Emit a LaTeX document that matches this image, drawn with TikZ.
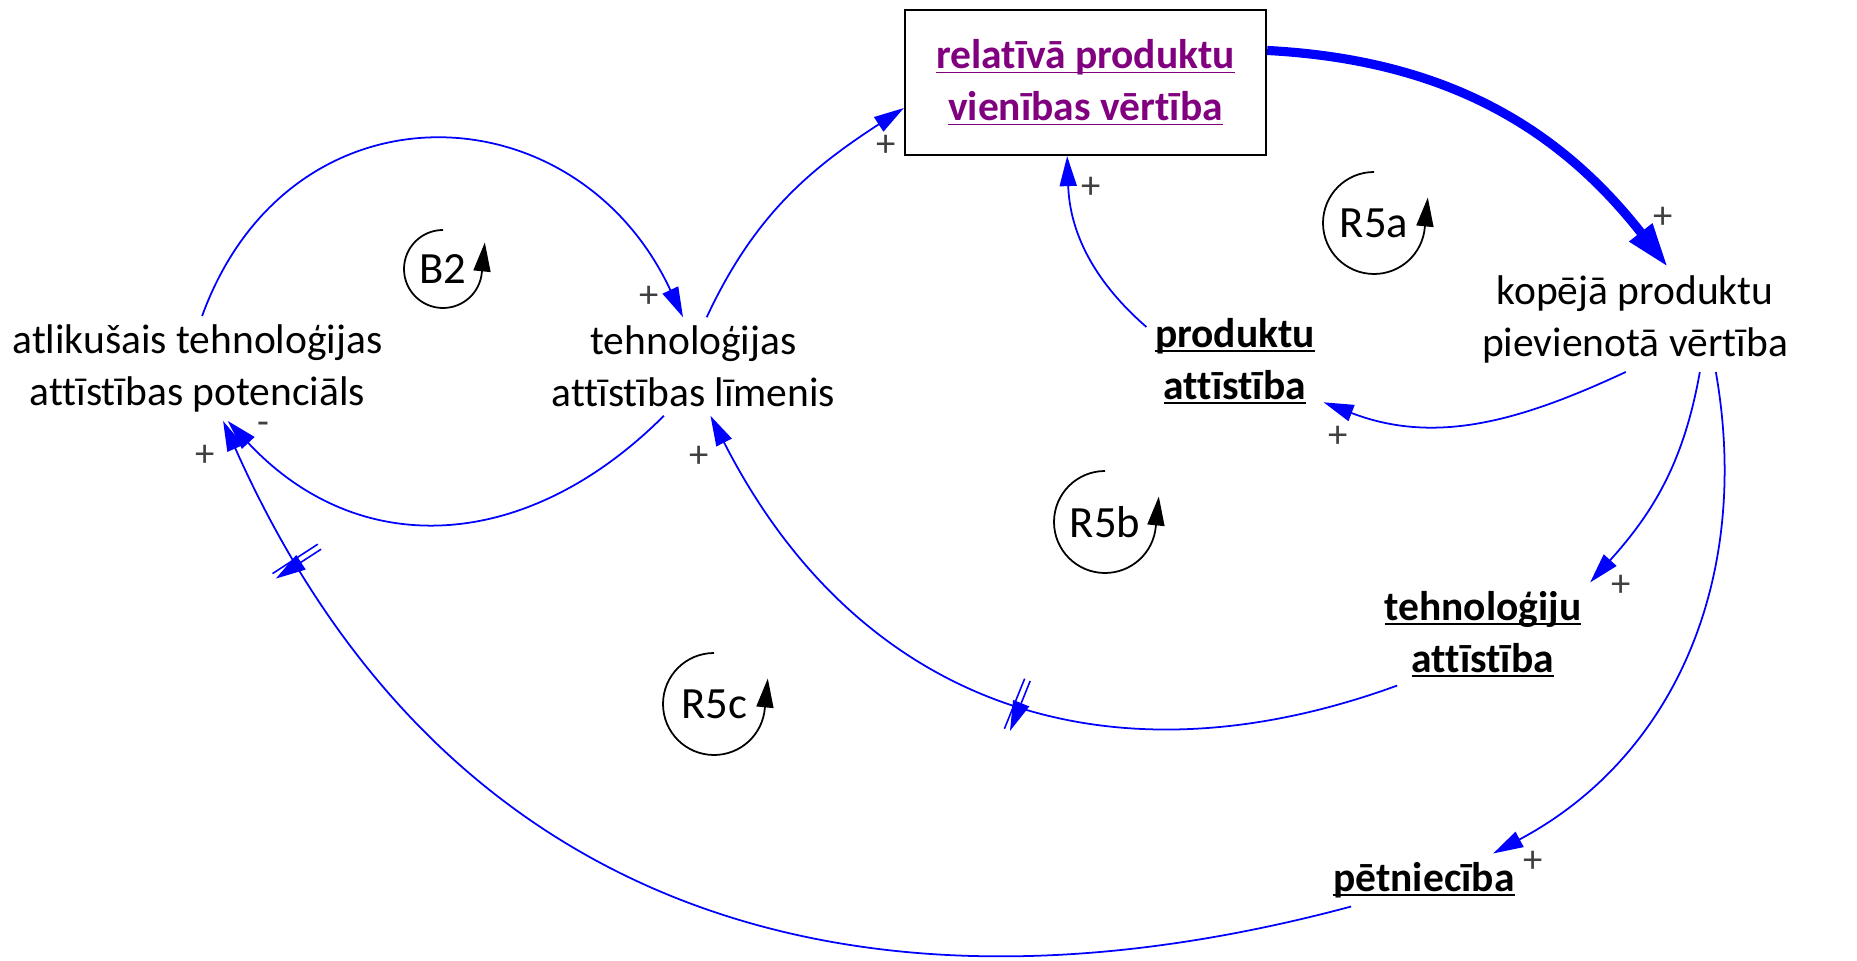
\documentclass[tikz,border=0pt]{standalone}
\usepackage{fontspec}
\setmainfont{Carlito}[Ligatures=NoCommon]
\usetikzlibrary{arrows.meta}
\definecolor{linkblue}{RGB}{0,0,255}
\definecolor{boxpurple}{RGB}{128,0,128}
\definecolor{signgray}{RGB}{64,64,64}
\newcommand{\undl}[1]{\setbox0\hbox{#1}\rlap{\rule[-1.3pt]{\wd0}{0.5pt}}\box0}
\tikzset{
  pics/loopmark/.style 2 args = {
    code = {
    \node[looptext] (-text) {#1};
    \draw[loopline] (0,-#2) arc[start angle=-90, end angle=-355, radius=#2] -- ++(3,-30);
    }
  },
  pics/delaymark/.style = {
    code = {
    \draw[linkblue, line width=0.45pt, rotate=#1] (-3,-27) -- (-3,27) (3,-27) -- (3,27);
    }
  }
}
\begin{document}
\begin{tikzpicture}[x=0.01cm, y=-0.01cm,
    var/.style={align=center, inner sep=0.08cm, font=\fontsize{11.8}{14.8}\selectfont},
    varb/.style={var, font=\fontsize{11.8}{14.8}\selectfont\bfseries},
    valuebox/.style={varb, draw=black, line width=0.6pt, text=boxpurple,
      minimum width=3.61cm, minimum height=1.45cm},
    link/.style={linkblue, line width=0.5pt, -{Triangle[length=0.3cm, width=0.17cm]}},
    biglink/.style={linkblue, line width=2.6pt, -{Triangle[length=0.44cm, width=0.27cm]}},
    pol/.style={text=signgray, inner sep=0, font=\fontsize{11}{13}\selectfont},
    looptext/.style={inner sep=0, font=\fontsize{12.7}{15}\selectfont},
    loopline/.style={black, line width=0.5pt, -{Triangle[length=0.29cm, width=0.17cm]}}]
      \useasboundingbox (0,0) rectangle (1857,961);

      % variables
      \node[var] (pot) at (197.5,368.5) {atlikušais tehnoloģijas\\attīstības potenciāls};
      \node[var] (level) at (693.5,366.5) {tehnoloģijas\\attīstības līmenis};
      \node[valuebox] (value) at (1085.5,82.5) {\undl{relatīvā produktu}\\\undl{vienības vērtība}};
      \node[varb] (proddev) at (1235,361) {\undl{produktu}\\\undl{attīstība}};
      \node[var] (total) at (1635,319.5) {kopējā produktu\\pievienotā vērtība};
      \node[varb] (techdev) at (1483,634) {\undl{tehnoloģiju}\\\undl{attīstība}};
      \node[varb] (research) at (1424,880) {\undl{pētniecība}};

      % balancing loop B2
      \draw[link] (pot.85) to[out=70, in=115, looseness=1.35] (level.102);
      \draw[link] (level.239) to[out=225, in=313, looseness=1.13] (pot.300);
      % links into the value box
      \draw[link] (level.75) to[out=65, in=213] (value.188);
      \draw[link] (proddev.159) to[out=139, in=272] (value.256);
      \draw[biglink] (value.10) to[out=-3, in=128] (total.58);
      % links out of the added value
      \draw[link] (total.260) to[out=205, in=339] (proddev.335);
      \draw[link] (total.321) to[out=260, in=48] (techdev.north east);
      \draw[link] (total.327) to[out=280, in=28] (research.21);
      % delayed links back to the left
      \draw[link] (techdev.211) to[out=200, in=297, looseness=1.1]
        pic[pos=0.47] {delaymark=-22} (level.289);
      \draw[link] (research.200) to[out=195, in=294, looseness=1.1]
        pic[pos=0.895] {delaymark=-57} (pot.296);

      % loop markers
      \foreach \name/\x/\y/\r in {B2/443/269/39, R5a/1374/223/51, R5b/1105/522/51, R5c/714/704/51} {
        \pic (\name) at (\x,\y) {loopmark={\name}{\r}};
      }

      % polarity signs
      \foreach \x/\y [count=\i] in {649/297, 886/146, 1091/188, 1663/218, 1338/437,
                                    1621/586, 1533/862, 699/457, 205/456} {
        \node[pol] (plus\i) at (\x,\y) {+};
      }
      \node[pol] (minus1) at (263,428) {-};
\end{tikzpicture}
\end{document}
